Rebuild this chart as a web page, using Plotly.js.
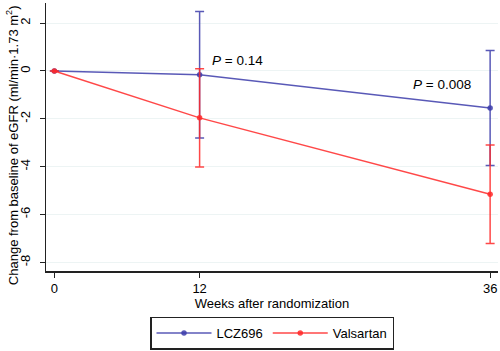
<!DOCTYPE html>
<html>
<head>
<meta charset="utf-8">
<script src="https://cdn.plot.ly/plotly-3.0.1.min.js"></script>
<style>html,body{margin:0;padding:0;background:#fff;}#chart{width:500px;height:351px;}</style>
</head>
<body>
<div id="chart"></div>
<script>
var weeks = [0, 12, 36];
var lczMean = [0, -0.16, -1.55];
var lczErr = [0, 2.64, 2.4];
var valMean = [0, -1.96, -5.15];
var valErr = [0, 2.05, 2.06];
var seriesNames = ['LCZ696', 'Valsartan'];
var yTicks = [2, 0, -2, -4, -6, -8];
var xTicks = [0, 12, 36];
var pLabels = ['<i>P</i> = 0.14', '<i>P</i> = 0.008'];
var pWeeks = [12, 36];
var pValues = [0.42, -0.56];
var yTitle = 'Change from baseline of eGFR (ml/min·1.73 m<sup>2</sup>)';

var blue = 'rgba(60,60,170,0.85)';
var red = 'rgba(255,40,40,0.85)';

var traces = [
  {
    x: weeks, y: lczMean, name: seriesNames[0], type: 'scatter', mode: 'lines+markers',
    line: {color: blue, width: 1.5}, marker: {color: blue, size: 5.5},
    error_y: {type: 'data', array: lczErr, visible: true, color: blue, thickness: 1.5, width: 4.5}
  },
  {
    x: weeks, y: valMean, name: seriesNames[1], type: 'scatter', mode: 'lines+markers',
    line: {color: red, width: 1.5}, marker: {color: red, size: 5.5},
    error_y: {type: 'data', array: valErr, visible: true, color: red, thickness: 1.5, width: 4.5}
  }
];

var annotations = pLabels.map(function (t, i) {
  return {
    x: pWeeks[i], y: pValues[i], text: t, showarrow: false,
    xanchor: i === 0 ? 'left' : 'right', yanchor: 'middle',
    xshift: i === 0 ? 10 : -17, font: {size: 13.5, color: '#000'}
  };
});
annotations.push({
  xref: 'paper', yref: 'paper', x: -0.075, y: 0.47, text: yTitle, textangle: -90,
  showarrow: false, xanchor: 'center', yanchor: 'middle', font: {size: 13, color: '#000'}
});

var layout = {
  width: 500, height: 351,
  margin: {l: 46, r: 2, t: 3, b: 68},
  paper_bgcolor: '#fff', plot_bgcolor: '#fff',
  font: {family: 'Liberation Sans, Arial, sans-serif', size: 13, color: '#000'},
  showlegend: true,
  legend: {
    orientation: 'h', x: 0.5, xanchor: 'center', y: -0.17, yanchor: 'top',
    bordercolor: '#222', borderwidth: 1.5, font: {size: 13},
    itemwidth: 55, tracegroupgap: 0
  },
  xaxis: {
    range: [-0.69, 36.65], tickvals: xTicks, ticktext: xTicks.map(String),
    showgrid: false, zeroline: false, showline: true, linecolor: '#222', linewidth: 1.5,
    ticks: 'outside', ticklen: 5, tickcolor: '#222', tickfont: {size: 13},
    title: {text: 'Weeks after randomization', font: {size: 13}, standoff: 3}
  },
  yaxis: {
    range: [-8.36, 2.84], tickvals: yTicks, ticktext: yTicks.map(String),
    tickangle: -90, ticklabelstandoff: 4,
    showgrid: true, gridcolor: '#edf4f4', gridwidth: 1, zeroline: false,
    showline: true, linecolor: '#222', linewidth: 1.5,
    ticks: 'outside', ticklen: 5, tickcolor: '#222', tickfont: {size: 13}
  },
  annotations: annotations
};

Plotly.newPlot('chart', traces, layout, {displayModeBar: false, staticPlot: true});
</script>
</body>
</html>
